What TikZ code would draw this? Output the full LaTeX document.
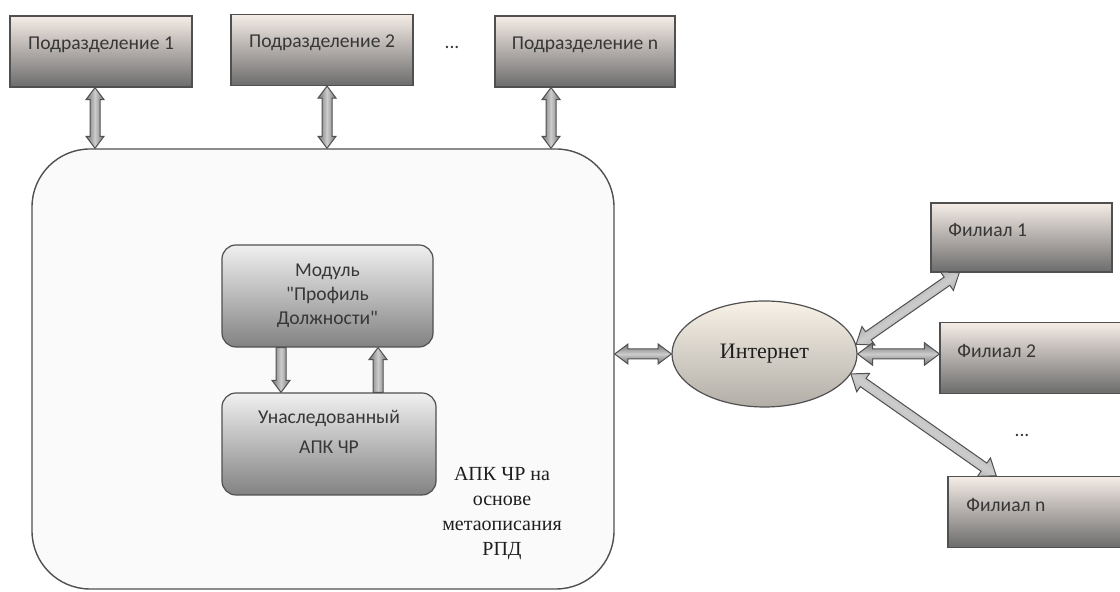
\documentclass[tikz,border=0pt]{standalone}
\usepackage{fontspec}
\setmainfont{Liberation Serif}
\newfontfamily\boxfont{Carlito}
\usetikzlibrary{calc,shapes.geometric}

\definecolor{edgegray}{RGB}{80,80,80}
\definecolor{boxtop}{RGB}{245,236,230}
\definecolor{boxmid}{RGB}{212,205,201}
\definecolor{boxbot}{RGB}{108,108,108}
\definecolor{modtop}{RGB}{240,240,240}
\definecolor{modmid}{RGB}{200,200,200}
\definecolor{modbot}{RGB}{130,130,130}
\definecolor{nettop}{RGB}{248,242,231}
\definecolor{netmid}{RGB}{238,231,219}
\definecolor{netbot}{RGB}{178,174,167}
\definecolor{bigfill}{RGB}{250,250,250}
\definecolor{txtgray}{RGB}{55,55,55}
\definecolor{txtdark}{RGB}{30,30,30}

\tikzset{
  subbox/.style={draw=edgegray, line width=0.6pt, top color=boxtop, middle color=boxmid, bottom color=boxbot, minimum height=35.5pt},
  boxtext/.style={font=\boxfont\fontsize{9.8}{12}\selectfont, text=txtgray},
  modbox/.style={draw=edgegray, line width=0.6pt, rounded corners=7pt, top color=modtop, middle color=modmid, bottom color=modbot, minimum height=51pt},
  arrowbody/.style={draw=edgegray, line width=0.5pt, top color=black!55, bottom color=black!55, middle color=black!20}
}

% block arrow: #1 heads (1 or 2), #2 head size, #3 start, #4 end
\newcommand{\flowarrow}[4]{%
  \path let \p1=($(#4)-(#3)$) in \pgfextra{%
    \pgfmathsetmacro\fa{atan2(\y1,\x1)}\xdef\faAng{\fa}%
    \pgfmathsetmacro\fl{veclen(\x1,\y1)}\xdef\faLen{\fl}};
  \pgfmathsetmacro\faHw{4.5*#2}%
  \pgfmathsetmacro\faHl{6*#2}%
  \pgfmathsetmacro\faEnd{\faLen-\faHl}%
  \begin{scope}[shift={(#3)}, rotate=\faAng]
    \ifnum#1=2
      \shade[arrowbody, shading angle=\faAng] (0pt,0pt) -- (\faHl pt,\faHw pt) -- (\faHl pt,2.5pt) -- (\faEnd pt,2.5pt) -- (\faEnd pt,\faHw pt) -- (\faLen pt,0pt) -- (\faEnd pt,-\faHw pt) -- (\faEnd pt,-2.5pt) -- (\faHl pt,-2.5pt) -- (\faHl pt,-\faHw pt) -- cycle;
    \else
      \shade[arrowbody, shading angle=\faAng] (0pt,2.5pt) -- (\faEnd pt,2.5pt) -- (\faEnd pt,\faHw pt) -- (\faLen pt,0pt) -- (\faEnd pt,-\faHw pt) -- (\faEnd pt,-2.5pt) -- (0pt,-2.5pt) -- cycle;
    \fi
  \end{scope}}

\begin{document}
\begin{tikzpicture}[x=0.5pt,y=0.5pt]
\useasboundingbox (0,0) rectangle (1120,592);

% departments
\node[subbox, minimum width=91pt, label={[boxtext, yshift=3.5pt]center:Подразделение 1}] (sub1) at (101,540.5) {};
\node[subbox, minimum width=91pt, label={[boxtext, yshift=3.5pt]center:Подразделение 2}] (sub2) at (322,542) {};
\node[boxtext] (dots) at (452,545) {...};
\node[subbox, minimum width=90pt, label={[boxtext, yshift=3.5pt]center:Подразделение n}] (subn) at (585,540.5) {};

% main system
\node[draw=edgegray, line width=0.7pt, fill=bigfill, rounded corners=29pt, minimum width=291pt, minimum height=220pt] (apk) at (323,223) {};
\node[modbox, boxtext, align=center, minimum width=105.5pt] (module) at (327.5,296) {Модуль\\"Профиль\\Должности"};
\node[modbox, minimum width=107pt, label={[boxtext, align=center, yshift=6pt]center:Унаследованный\\[3pt]АПК ЧР}] (legacy) at (329,148) {};
\node[align=center, text=txtdark, font=\fontsize{10}{12.5}\selectfont] (apklabel) at (502,78.5) {АПК ЧР на\\основе\\метаописания\\РПД};

% network and branches
\node[ellipse, draw=edgegray, line width=0.6pt, top color=nettop, middle color=netmid, bottom color=netbot, minimum width=92.5pt, minimum height=53pt, inner sep=0pt, text=txtdark, font=\fontsize{11}{13}\selectfont] (net) at (764.5,238) {Интернет};
\node[subbox, minimum width=90.5pt, minimum height=34.5pt, label={[boxtext, anchor=west, xshift=5.5pt, yshift=3.5pt]west:Филиал 1}] (fil1) at (1021.5,354.5) {};
\node[subbox, minimum width=90.5pt, label={[boxtext, anchor=west, xshift=5.5pt, yshift=3.5pt]west:Филиал 2}] (fil2) at (1030.5,234) {};
\node[boxtext] (fdots) at (1022,157) {...};
\node[subbox, minimum width=90.5pt, label={[boxtext, anchor=west, xshift=6pt, yshift=3.5pt]west:Филиал n}] (filn) at (1038.5,80) {};

% arrow ends
\coordinate (x1) at (95,0);
\coordinate (x2) at (327,0);
\coordinate (x3) at (551,0);
\coordinate (x4) at (281,0);
\coordinate (x5) at (378,0);
\coordinate (s1) at (x1 |- sub1.south);
\coordinate (e1) at (x1 |- apk.north);
\coordinate (s2) at (x2 |- sub2.south);
\coordinate (e2) at (x2 |- apk.north);
\coordinate (s3) at (x3 |- subn.south);
\coordinate (e3) at (x3 |- apk.north);
\coordinate (md) at (x4 |- module.south);
\coordinate (lu) at (x4 |- legacy.north);
\coordinate (lr) at (x5 |- legacy.north);
\coordinate (mr) at (x5 |- module.south);
\coordinate (ap) at (net.west -| apk.east);
\coordinate (f1) at ($(fil1.south west)+(29,0)$);
\coordinate (f2) at (fil2.west |- net.east);
\coordinate (fn) at ($(filn.north west)+(49,0)$);

\flowarrow{2}{1}{s1}{e1}
\flowarrow{2}{1}{s2}{e2}
\flowarrow{2}{1}{s3}{e3}
\flowarrow{1}{1}{md}{lu}
\flowarrow{1}{1}{lr}{mr}
\flowarrow{2}{1.1}{ap}{net.west}
\flowarrow{2}{1.25}{net.6}{f1}
\flowarrow{2}{1.25}{net.east}{f2}
\flowarrow{2}{1.25}{net.-13}{fn}
\end{tikzpicture}
\end{document}
